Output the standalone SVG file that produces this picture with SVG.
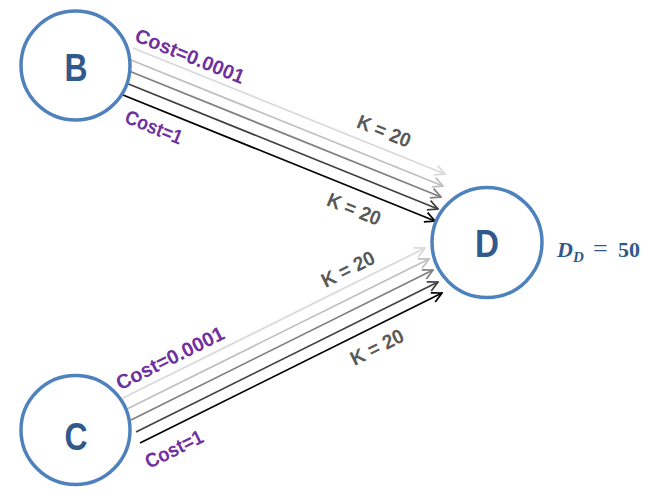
<svg xmlns="http://www.w3.org/2000/svg" width="658" height="490" viewBox="0 0 658 490">
<style>
  .node circle { fill: #ffffff; stroke: #4f81bd; stroke-width: 3.5; }
  .node text { font-family: "Liberation Sans", Arial, sans-serif; font-weight: bold; font-size: 38px; fill: #305a8c; text-anchor: middle; }
  .edge { fill: none; stroke-width: 1.7; }
  .cost { font-family: "Liberation Sans", Arial, sans-serif; font-weight: bold; font-size: 20px; fill: #7030a0; text-anchor: middle; }
  .k { font-family: "Liberation Sans", Arial, sans-serif; font-weight: bold; font-size: 20px; fill: #595959; text-anchor: middle; }
  .math { font-family: "Liberation Serif", "Times New Roman", serif; font-weight: bold; font-size: 22px; fill: #305a8c; }
</style>
<defs>
  <marker id="a1" viewBox="0 0 12 12" refX="11" refY="6" markerWidth="12" markerHeight="12" markerUnits="userSpaceOnUse" orient="auto"><path d="M1,1 L11,6 L1,11" fill="none" stroke="#d9d9d9" stroke-width="1.7"/></marker>
  <marker id="a2" viewBox="0 0 12 12" refX="11" refY="6" markerWidth="12" markerHeight="12" markerUnits="userSpaceOnUse" orient="auto"><path d="M1,1 L11,6 L1,11" fill="none" stroke="#bfbfbf" stroke-width="1.7"/></marker>
  <marker id="a3" viewBox="0 0 12 12" refX="11" refY="6" markerWidth="12" markerHeight="12" markerUnits="userSpaceOnUse" orient="auto"><path d="M1,1 L11,6 L1,11" fill="none" stroke="#808080" stroke-width="1.7"/></marker>
  <marker id="a4" viewBox="0 0 12 12" refX="11" refY="6" markerWidth="12" markerHeight="12" markerUnits="userSpaceOnUse" orient="auto"><path d="M1,1 L11,6 L1,11" fill="none" stroke="#404040" stroke-width="1.7"/></marker>
  <marker id="a5" viewBox="0 0 12 12" refX="11" refY="6" markerWidth="12" markerHeight="12" markerUnits="userSpaceOnUse" orient="auto"><path d="M1,1 L11,6 L1,11" fill="none" stroke="#000000" stroke-width="1.7"/></marker>
</defs>

<g id="connectors">
  <line class="edge" x1="133" y1="48" x2="445" y2="174" stroke="#d9d9d9" marker-end="url(#a1)"/>
  <line class="edge" x1="131" y1="60" x2="443" y2="186" stroke="#bfbfbf" marker-end="url(#a2)"/>
  <line class="edge" x1="129" y1="71" x2="441" y2="197" stroke="#808080" marker-end="url(#a3)"/>
  <line class="edge" x1="126" y1="83" x2="438" y2="209" stroke="#404040" marker-end="url(#a4)"/>
  <line class="edge" x1="123" y1="95" x2="435" y2="221" stroke="#000000" marker-end="url(#a5)"/>

  <line class="edge" x1="123" y1="398" x2="425" y2="248" stroke="#d9d9d9" marker-end="url(#a1)"/>
  <line class="edge" x1="127" y1="409" x2="429" y2="259" stroke="#bfbfbf" marker-end="url(#a2)"/>
  <line class="edge" x1="131" y1="420" x2="433" y2="270" stroke="#808080" marker-end="url(#a3)"/>
  <line class="edge" x1="136" y1="432" x2="438" y2="282" stroke="#404040" marker-end="url(#a4)"/>
  <line class="edge" x1="140" y1="443" x2="442" y2="293" stroke="#000000" marker-end="url(#a5)"/>

  <text class="cost" x="190" y="56" dy="0.35em" textLength="116" lengthAdjust="spacingAndGlyphs" transform="rotate(22 190 56)">Cost=0.0001</text>
  <text class="cost" x="154" y="127" dy="0.35em" textLength="60" lengthAdjust="spacingAndGlyphs" transform="rotate(22 154 127)">Cost=1</text>
  <text class="k" x="384" y="131" dy="0.35em" textLength="56" lengthAdjust="spacingAndGlyphs" transform="rotate(22 384 131)">K = 20</text>
  <text class="k" x="354" y="209" dy="0.35em" textLength="56" lengthAdjust="spacingAndGlyphs" transform="rotate(22 354 209)">K = 20</text>

  <text class="cost" x="170" y="358" dy="0.35em" textLength="118" lengthAdjust="spacingAndGlyphs" transform="rotate(-26.4 170 358)">Cost=0.0001</text>
  <text class="cost" x="174" y="449" dy="0.35em" textLength="62" lengthAdjust="spacingAndGlyphs" transform="rotate(-26.4 174 449)">Cost=1</text>
  <text class="k" x="348" y="269" dy="0.35em" textLength="57" lengthAdjust="spacingAndGlyphs" transform="rotate(-26.4 348 269)">K = 20</text>
  <text class="k" x="377" y="347" dy="0.35em" textLength="57" lengthAdjust="spacingAndGlyphs" transform="rotate(-26.4 377 347)">K = 20</text>
</g>

<g id="node-B" class="node">
  <circle cx="75.5" cy="65.5" r="54.5"/>
  <text x="76" y="81" textLength="23" lengthAdjust="spacingAndGlyphs">B</text>
</g>
<g id="node-C" class="node">
  <circle cx="75.5" cy="430" r="54.5"/>
  <text x="76" y="450" textLength="23" lengthAdjust="spacingAndGlyphs">C</text>
</g>
<g id="node-D" class="node">
  <circle cx="487" cy="242.5" r="55"/>
  <text x="487" y="257" textLength="24" lengthAdjust="spacingAndGlyphs">D</text>
</g>

<g id="label-DD">
  <text class="math" x="557" y="257"><tspan font-style="italic">D</tspan><tspan font-style="italic" font-size="15" dy="5">D</tspan><tspan x="593" dy="-5" font-weight="normal" font-size="26">=</tspan><tspan x="618">50</tspan></text>
</g>
</svg>
